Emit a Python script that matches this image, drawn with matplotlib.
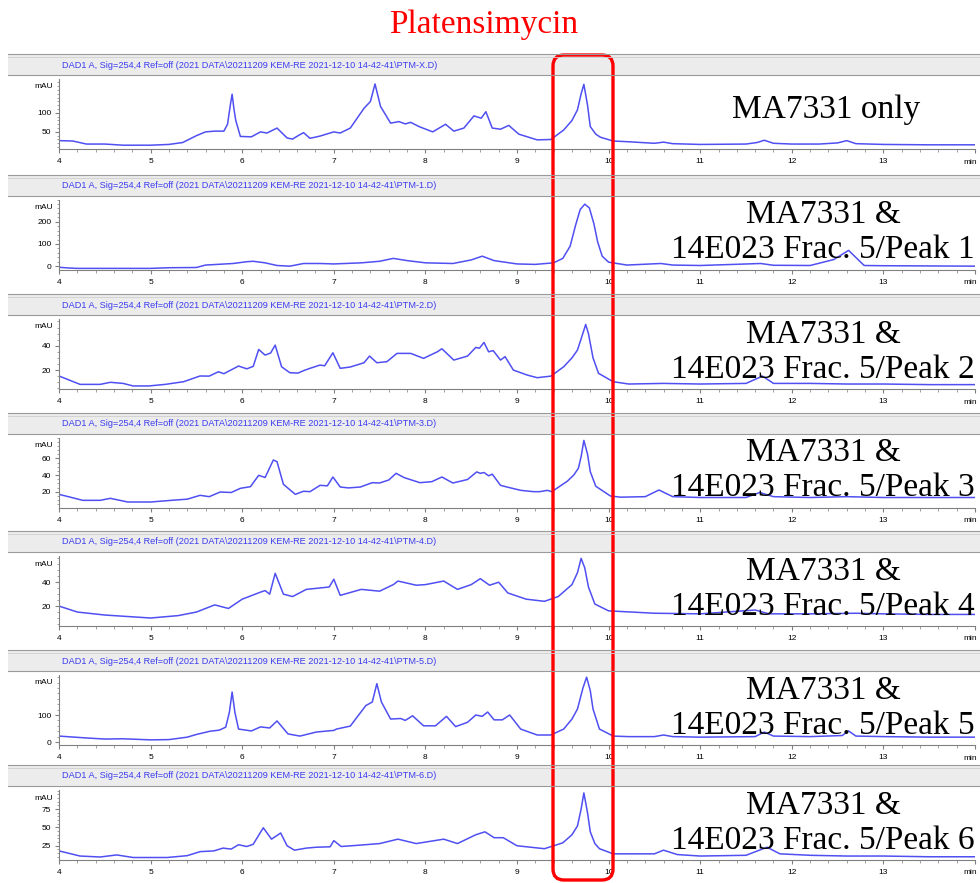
import matplotlib.pyplot as plt
from matplotlib.patches import Rectangle, FancyBboxPatch
from matplotlib.ticker import MultipleLocator, FixedLocator

fichiers = ['PTM-X', 'PTM-1', 'PTM-2', 'PTM-3', 'PTM-4', 'PTM-5', 'PTM-6']
etiquettes = ['MA7331 only',
              'MA7331 &\n14E023 Frac. 5/Peak 1',
              'MA7331 &\n14E023 Frac. 5/Peak 2',
              'MA7331 &\n14E023 Frac. 5/Peak 3',
              'MA7331 &\n14E023 Frac. 5/Peak 4',
              'MA7331 &\n14E023 Frac. 5/Peak 5',
              'MA7331 &\n14E023 Frac. 5/Peak 6']

t_x = [4.0, 4.15, 4.3, 4.5, 4.7, 5.0, 5.2, 5.35, 5.5, 5.6, 5.7, 5.8, 5.84, 5.87, 5.89, 5.91, 5.93, 5.98, 6.1,
       6.2, 6.27, 6.38, 6.49, 6.55, 6.61, 6.67, 6.74, 6.85, 7.0, 7.07, 7.18, 7.33, 7.40, 7.45, 7.51, 7.62,
       7.71, 7.78, 7.84, 7.93, 8.08, 8.22, 8.31, 8.42, 8.53, 8.61, 8.66, 8.73, 8.82, 8.91, 9.02, 9.22, 9.37,
       9.51, 9.6, 9.66, 9.7, 9.73, 9.77, 9.80, 9.86, 9.91, 10.05, 10.22, 10.5, 10.6, 10.7, 11.0, 11.5,
       11.62, 11.7, 11.8, 12.0, 12.3, 12.5, 12.6, 12.7, 13.0, 13.5, 14.0]
y_x = [27, 26, 18, 18, 15, 15, 17, 22, 40, 50, 52, 52, 70, 120, 149, 110, 80, 38, 37, 50, 47, 60, 34, 31, 40,
       48, 33, 39, 50, 47, 60, 112, 130, 176, 117, 73, 77, 71, 75, 64, 50, 70, 52, 60, 92, 86, 103, 60, 57,
       67, 44, 29, 30, 55, 80, 108, 150, 175, 120, 64, 44, 36, 26, 24, 20, 23, 19, 17, 18, 22, 28, 20, 18,
       18, 21, 27, 19, 17, 16, 16]

t_1 = [4.0, 4.1, 4.2, 4.6, 5.0, 5.2, 5.5, 5.6, 5.9, 6.05, 6.12, 6.25, 6.38, 6.52, 6.67, 6.85, 7.0, 7.3, 7.5,
       7.65, 7.8, 8.0, 8.3, 8.5, 8.62, 8.75, 9.0, 9.2, 9.4, 9.5, 9.58, 9.64, 9.69, 9.74, 9.79, 9.84, 9.88,
       9.93, 10.0, 10.2, 10.57, 10.7, 11.0, 11.66, 11.8, 12.2, 12.46, 12.62, 12.79, 13.0, 13.5, 14.0]
y_1 = [-5, -8, -10, -10, -10, -7, -6, 5, 12, 20, 22, 15, 3, 0, 12, 12, 10, 15, 22, 35, 25, 15, 12, 28, 45,
       25, 10, 8, 15, 35, 90, 185, 255, 279, 262, 190, 110, 45, 18, 5, 12, 5, 3, 12, 4, 3, 30, 71, 3, 2, 1, 0]

t_2 = [4.0, 4.23, 4.45, 4.56, 4.7, 4.81, 4.98, 5.16, 5.36, 5.54, 5.64, 5.74, 5.8, 5.96, 6.05, 6.12, 6.18,
       6.25, 6.31, 6.36, 6.43, 6.52, 6.61, 6.67, 6.74, 6.85, 6.9, 6.99, 7.07, 7.18, 7.33, 7.39, 7.47, 7.58,
       7.69, 7.84, 7.98, 8.13, 8.18, 8.31, 8.46, 8.55, 8.59, 8.64, 8.69, 8.74, 8.82, 8.87, 8.96, 9.11, 9.22,
       9.37, 9.51, 9.6, 9.66, 9.71, 9.75, 9.78, 9.83, 9.89, 10.05, 10.22, 10.6, 11.0, 11.5, 11.68, 11.8,
       12.2, 12.6, 13.0, 13.5, 14.0]
y_2 = [15.1, 8.2, 8.2, 9.9, 9, 6.9, 6.9, 8.2, 10.4, 15.1, 15, 18.6, 17, 23.3, 21, 23, 36.9, 32.3, 34, 40.5,
       22.7, 17.8, 17.5, 19.5, 21.4, 24.1, 23.5, 34.2, 21.4, 22.5, 26, 31.5, 26, 26.9, 33.7, 33.7, 29.6, 35,
       37.5, 28.2, 31.5, 38.6, 38, 42.7, 35, 36, 28.2, 31, 20, 15.9, 13.7, 15, 22.7, 30, 36.4, 48, 57.5, 50,
       30, 17.3, 10.4, 8.5, 9, 8.5, 9, 15, 9, 9, 8.5, 8.5, 8, 8]

t_3 = [4.0, 4.26, 4.45, 4.56, 4.75, 5.0, 5.25, 5.4, 5.54, 5.64, 5.76, 5.88, 5.98, 6.09, 6.18, 6.25, 6.34,
       6.38, 6.45, 6.58, 6.67, 6.74, 6.85, 6.93, 6.99, 7.07, 7.16, 7.29, 7.42, 7.5, 7.6, 7.68, 7.77, 7.94,
       8.07, 8.18, 8.3, 8.46, 8.56, 8.6, 8.64, 8.69, 8.73, 8.82, 8.89, 9.04, 9.18, 9.25, 9.33, 9.38, 9.55,
       9.62, 9.67, 9.70, 9.73, 9.77, 9.8, 9.86, 10.02, 10.13, 10.4, 10.55, 10.7, 11.0, 11.5, 11.65, 11.8,
       12.2, 12.6, 13.0, 13.5, 14.0]
y_3 = [16.8, 9.6, 9.6, 12, 7.6, 7.6, 9.8, 11, 15.6, 14, 19.6, 19, 24, 26, 39.6, 37, 58, 56, 28.8, 16.8, 20.5,
       20, 27.6, 27, 37.6, 25.6, 24.5, 25.6, 30.8, 30.4, 34, 42, 36.8, 30.8, 32, 37.6, 30.4, 34.6, 43.7, 42,
       43, 39, 41, 27.6, 25.6, 21.6, 20, 20, 21.6, 20, 32.6, 40, 48, 62, 81.5, 65, 44, 26.5, 14.8, 13.4, 14,
       22, 14, 13, 13, 19, 14, 13, 14, 13, 13, 13]

t_4 = [4.0, 4.2, 4.5, 5.0, 5.3, 5.5, 5.7, 5.85, 6.0, 6.2, 6.25, 6.3, 6.36, 6.45, 6.55, 6.7, 6.95, 7.0, 7.07,
       7.3, 7.5, 7.65, 7.7, 7.9, 8.0, 8.2, 8.35, 8.5, 8.6, 8.7, 8.8, 8.9, 9.1, 9.3, 9.45, 9.6, 9.66, 9.7,
       9.74, 9.78, 9.85, 10.0, 10.5, 11.0, 11.6, 11.75, 12.2, 12.7, 13.0, 13.5, 14.0]
y_4 = [20, 15, 12.5, 10, 12, 15, 21, 18, 25.8, 31.7, 33, 30, 47.5, 30, 28, 34, 36, 42.5, 29, 34, 32.5, 38, 41,
       37.5, 38, 41, 34, 38, 43, 37.5, 40, 31, 25.8, 24, 28, 38, 48, 60, 52, 36, 21.7, 16, 14, 13.5, 16.7,
       13.5, 13.5, 14, 13.5, 13, 13]

t_5 = [4.0, 4.3, 4.5, 4.7, 5.0, 5.2, 5.4, 5.5, 5.65, 5.75, 5.82, 5.86, 5.89, 5.92, 5.96, 6.1, 6.2, 6.3, 6.38,
       6.5, 6.63, 6.81, 7.0, 7.03, 7.18, 7.35, 7.42, 7.47, 7.52, 7.62, 7.73, 7.78, 7.86, 7.98, 8.11, 8.23,
       8.33, 8.46, 8.55, 8.62, 8.68, 8.75, 8.84, 8.92, 9.04, 9.22, 9.37, 9.51, 9.6, 9.66, 9.72, 9.76, 9.8,
       9.83, 9.9, 10.05, 10.22, 10.5, 10.6, 10.7, 11.0, 11.6, 11.7, 11.8, 12.2, 12.55, 12.62, 12.7, 13.0,
       13.5, 14.0]
y_5 = [22, 15, 11, 12, 8, 9, 18, 28, 40, 44, 55, 110, 185, 110, 48, 41, 56, 52, 78, 30, 22, 37, 43, 48, 59,
       135, 148, 216, 148, 85, 87, 80, 97, 60, 60, 95, 57, 73, 100, 95, 111, 82, 82, 100, 48, 26, 26, 48,
       85, 122, 200, 240, 190, 122, 48, 22, 20, 20, 26, 20, 18, 20, 37, 22, 20, 24, 41, 22, 20, 18, 18]

t_6 = [4.0, 4.23, 4.45, 4.63, 4.81, 5.18, 5.4, 5.54, 5.69, 5.79, 5.88, 5.96, 6.05, 6.12, 6.23, 6.32, 6.42,
       6.49, 6.57, 6.7, 6.81, 6.96, 7.0, 7.08, 7.3, 7.5, 7.7, 7.9, 8.2, 8.35, 8.55, 8.65, 8.75, 8.85, 9.0,
       9.3, 9.5, 9.6, 9.66, 9.70, 9.73, 9.77, 9.8, 9.85, 9.9, 10.05, 10.5, 10.6, 10.75, 11.0, 11.5, 11.73,
       11.87, 12.2, 12.6, 13.0, 13.5, 14.0]
y_6 = [18, 11, 9.7, 12.5, 9, 9, 11.5, 17, 18, 21.8, 20.5, 26.4, 24, 27, 49.5, 34, 42.4, 25, 19, 21.8, 23,
       23.6, 32, 24, 26, 28, 34, 28, 34, 28, 40, 44, 36, 36, 25, 21, 29, 40, 52, 75, 97, 70, 44, 28, 21, 14,
       14, 19, 13, 11, 12, 23, 14, 12, 11, 11, 10, 10]

temps = [t_x, t_1, t_2, t_3, t_4, t_5, t_6]
signaux = [y_x, y_1, y_2, y_3, y_4, y_5, y_6]
graduations_y = [[50, 100], [0, 100, 200], [20, 40], [20, 40, 60], [20, 40], [0, 100], [25, 50, 75]]

# Mise en page (pixels de la figure)
W, H = 980, 883
haut_bandeau = [65, 185.5, 305, 423.5, 542, 661, 776]
limites_y = [(5, 189), (-15, 300), (4.4, 62), (1, 85), (3.3, 62), (-11, 248), (5.6, 101)]
pas_mineur = [10, 20, 5, 5, 5, 20, 5]
bleu = '#4f4ff2'
police = 'Liberation Sans'

fig = plt.figure(figsize=(W / 100, H / 100), dpi=100)
fig.patch.set_facecolor('white')

for i in range(len(fichiers)):
    yh = haut_bandeau[i]
    ax = fig.add_axes([59 / W, 1 - (yh + 84) / H, 916 / W, 70 / H])
    ax.plot(temps[i], signaux[i], color=bleu, lw=1.1)
    ax.set_xlim(4, 14)
    ax.set_ylim(*limites_y[i])
    for s in ['top', 'right']:
        ax.spines[s].set_visible(False)
    for s in ['left', 'bottom']:
        ax.spines[s].set_color('#808080')
        ax.spines[s].set_linewidth(0.8)
    ax.set_xticks(range(4, 15))
    ax.set_xticklabels([str(v) for v in range(4, 14)] + [''])
    ax.xaxis.set_minor_locator(MultipleLocator(0.2))
    ax.yaxis.set_major_locator(FixedLocator(graduations_y[i]))
    ax.yaxis.set_minor_locator(MultipleLocator(pas_mineur[i]))
    ax.tick_params(which='major', length=3, width=0.8, color='#808080', labelsize=6, pad=2.5)
    ax.tick_params(axis='x', which='major', pad=3.5)
    ax.tick_params(which='minor', length=1.8, width=0.6, color='#909090')
    for lab in ax.get_xticklabels() + ax.get_yticklabels():
        lab.set_family(police)

# Calque du dessus : bandeaux, textes, cadre rouge
ov = fig.add_axes([0, 0, 1, 1], zorder=10)
ov.set_xlim(0, W)
ov.set_ylim(H, 0)
ov.axis('off')
ov.patch.set_alpha(0)

for i in range(len(fichiers)):
    yh = haut_bandeau[i]
    ov.add_patch(Rectangle((8, yh - 11), W - 8, 21, facecolor='#ececec', edgecolor='none'))
    ov.plot([8, W], [yh - 11, yh - 11], color='#9a9a9a', lw=0.8)
    ov.plot([8, W], [yh - 8, yh - 8], color='#cfcfcf', lw=0.6)
    ov.plot([8, W], [yh + 10, yh + 10], color='#9a9a9a', lw=0.8)
    entete = 'DAD1 A, Sig=254,4 Ref=off (2021 DATA\\20211209 KEM-RE 2021-12-10 14-42-41\\' + fichiers[i] + '.D)'
    ov.text(62, yh, entete, fontsize=6.6, family=police, color='#3c3cf0', va='center', ha='left')
    ov.text(53, yh + 22, 'mAU', fontsize=6, family=police, va='center', ha='right')
    ov.text(970, yh + 97, 'min', fontsize=6, family=police, va='center', ha='center')
    if '\n' in etiquettes[i]:
        ov.text(823, yh + 47, etiquettes[i], fontsize=24, family='Liberation Serif',
                ha='center', va='center', multialignment='center', linespacing=1.2)
    else:
        ov.text(826, yh + 45, etiquettes[i], fontsize=24, family='Liberation Serif',
                ha='center', va='center')

ov.add_patch(FancyBboxPatch((553, 55), 60, 825, boxstyle='round,pad=0,rounding_size=11',
                            facecolor='none', edgecolor='#ff0000', lw=2.4))
ov.text(484, 25, 'Platensimycin', fontsize=24, family='Liberation Serif', color='#ff0000',
        ha='center', va='center')

plt.savefig('out.png', dpi=100)
plt.close()
